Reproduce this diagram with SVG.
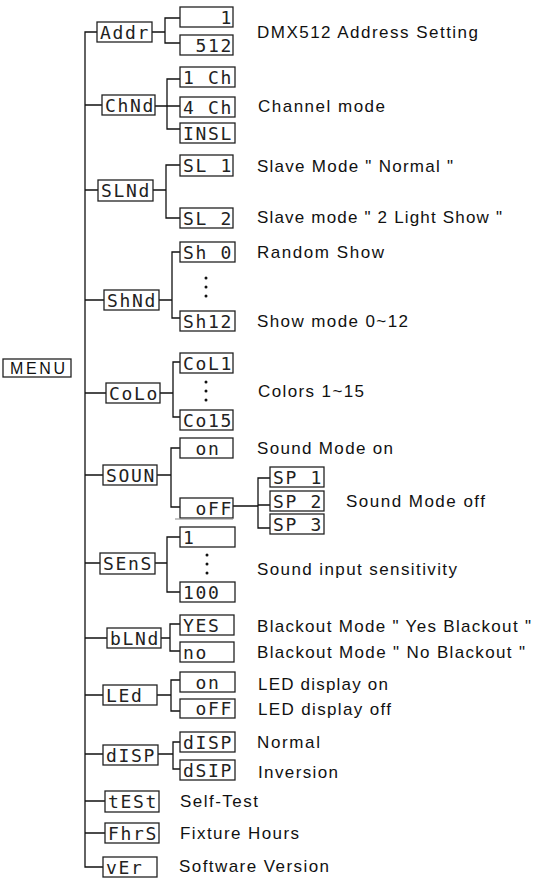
<svg xmlns="http://www.w3.org/2000/svg" width="537" height="884" viewBox="0 0 537 884">
<style>
.box{fill:#fff;stroke:#222;stroke-width:1.3}
.seg{font-family:"DejaVu Sans Mono",monospace;font-size:18px;fill:#222}
.lbl{font-family:"Liberation Sans",Arial,sans-serif;font-size:17px;fill:#111}
.menu{font-family:"Liberation Sans",Arial,sans-serif;font-size:16px;fill:#111}
.con{fill:none;stroke:#111;stroke-width:1.3}
.dot{fill:#111}
</style>
<rect width="537" height="884" fill="#fff"/>
<g id="connectors" class="con">
<path d="M97,32 H85 V867 H103"/>
<path d="M85,105 H102 M85,190 H98 M85,300 H104 M85,393 H106 M85,475 H103 M85,563 H100 M85,638 H107 M85,695 H103 M85,754 H103 M85,801 H105 M85,833 H105"/>
<path d="M152,32 H165 M180,18 H165 V43 H180"/>
<path d="M155,106 H180 M180,79 H167 V129 H180"/>
<path d="M153,190 H166 M180,165 H166 V218 H180"/>
<path d="M159,300 H172 M180,252 H172 V318 H180"/>
<path d="M160,393 H173 M180,362 H173 V417 H180"/>
<path d="M157,475 H171 M180,448 H171 V507 H180"/>
<path d="M233,506 H258 M270,478 H258 V528 H270 M258,505 H270"/>
<path d="M155,563 H167 M180,537 H167 V592 H180"/>
<path d="M161,638 H170 M180,624 H170 V651 H180"/>
<path d="M157,695 H171 M180,680 H171 V711 H180"/>
<path d="M158,754 H173 M180,742 H173 V769 H180"/>
</g>
<g id="menu"><rect class="box" x="3" y="359" width="68" height="18"/><text class="menu" x="10" y="374" textLength="55" lengthAdjust="spacing">MENU</text></g>

<g id="addr"><rect class="box" x="97" y="22" width="55" height="20"/><text class="seg" x="100 112.5 125 137.5" y="38.5">Addr</text></g>
<g id="addr-1"><rect class="box" x="180" y="7" width="53" height="20"/><text class="seg" x="220.5" y="23.5">1</text></g>
<g id="addr-512"><rect class="box" x="180" y="35" width="53" height="20"/><text class="seg" x="195.5 208 220.5" y="51.5">512</text></g>
<text class="lbl" x="257" y="38" textLength="221" lengthAdjust="spacing">DMX512 Address Setting</text>

<g id="chnd"><rect class="box" x="102" y="95" width="53" height="20"/><text class="seg" x="105 117.5 130 142.5" y="111.5">ChNd</text></g>
<g id="ch-1"><rect class="box" x="180" y="67" width="55" height="20"/><text class="seg" x="183 208 220.5" y="83.5">1Ch</text></g>
<g id="ch-4"><rect class="box" x="180" y="97" width="55" height="20"/><text class="seg" x="183 208 220.5" y="113.5">4Ch</text></g>
<g id="ch-insl"><rect class="box" x="180" y="123" width="55" height="20"/><text class="seg" x="183 195.5 208 220.5" y="139.5">INSL</text></g>
<text class="lbl" x="258" y="112" textLength="127" lengthAdjust="spacing">Channel mode</text>

<g id="slnd"><rect class="box" x="98" y="180" width="55" height="21"/><text class="seg" x="101 113.5 126 138.5" y="196.5">SLNd</text></g>
<g id="sl-1"><rect class="box" x="180" y="155" width="53" height="21"/><text class="seg" x="183 195.5 220.5" y="171.5">SL1</text></g>
<g id="sl-2"><rect class="box" x="180" y="208" width="53" height="20"/><text class="seg" x="183 195.5 220.5" y="224.5">SL2</text></g>
<text class="lbl" x="257" y="172" textLength="196" lengthAdjust="spacing">Slave Mode " Normal "</text>
<text class="lbl" x="257" y="223" textLength="245" lengthAdjust="spacing">Slave mode " 2 Light Show "</text>

<g id="shnd"><rect class="box" x="104" y="290" width="55" height="20"/><text class="seg" x="107 119.5 132 144.5" y="306.5">ShNd</text></g>
<g id="sh-0"><rect class="box" x="180" y="242" width="55" height="20"/><text class="seg" x="183 195.5 220.5" y="258.5">Sh0</text></g>
<g id="sh-12"><rect class="box" x="180" y="311" width="55" height="20"/><text class="seg" x="183 195.5 208 220.5" y="327.5">Sh12</text></g>
<circle class="dot" cx="206" cy="278" r="1.5"/><circle class="dot" cx="206" cy="287" r="1.5"/><circle class="dot" cx="206" cy="296" r="1.5"/>
<text class="lbl" x="257" y="258" textLength="127" lengthAdjust="spacing">Random Show</text>
<text class="lbl" x="257" y="327" textLength="151" lengthAdjust="spacing">Show mode 0~12</text>

<g id="colo"><rect class="box" x="106" y="383" width="54" height="20"/><text class="seg" x="109 121.5 134 146.5" y="399.5">CoLo</text></g>
<g id="col-1"><rect class="box" x="180" y="353" width="53" height="20"/><text class="seg" x="183 195.5 208 220.5" y="369.5">CoL1</text></g>
<g id="col-15"><rect class="box" x="180" y="410" width="53" height="20"/><text class="seg" x="183 195.5 208 220.5" y="426.5">Co15</text></g>
<circle class="dot" cx="206" cy="382" r="1.5"/><circle class="dot" cx="206" cy="391" r="1.5"/><circle class="dot" cx="206" cy="400" r="1.5"/>
<text class="lbl" x="258" y="397" textLength="106" lengthAdjust="spacing">Colors 1~15</text>

<g id="soun"><rect class="box" x="103" y="465" width="54" height="20"/><text class="seg" x="106 118.5 131 143.5" y="481.5">SOUN</text></g>
<g id="soun-on"><rect class="box" x="180" y="438" width="53" height="20"/><text class="seg" x="195.5 208" y="454.5">on</text></g>
<g id="soun-off"><rect class="box" x="180" y="498" width="53" height="20"/><path d="M175,519 H233" stroke="#888" stroke-width="1"/><text class="seg" x="195.5 208 220.5" y="514.5">oFF</text></g>
<g id="sp-1"><rect class="box" x="270" y="467" width="54" height="20"/><text class="seg" x="273 285.5 310.5" y="483.5">SP1</text></g>
<g id="sp-2"><rect class="box" x="270" y="491" width="54" height="20"/><text class="seg" x="273 285.5 310.5" y="507.5">SP2</text></g>
<g id="sp-3"><rect class="box" x="270" y="514" width="54" height="20"/><text class="seg" x="273 285.5 310.5" y="530.5">SP3</text></g>
<text class="lbl" x="257" y="454" textLength="136" lengthAdjust="spacing">Sound Mode on</text>
<text class="lbl" x="346" y="507" textLength="139" lengthAdjust="spacing">Sound Mode off</text>

<g id="sens"><rect class="box" x="100" y="553" width="55" height="21"/><text class="seg" x="103 115.5 128 140.5" y="569.5">SEnS</text></g>
<g id="sens-1"><rect class="box" x="180" y="527" width="55" height="20"/><text class="seg" x="183" y="543.5">1</text></g>
<g id="sens-100"><rect class="box" x="180" y="582" width="55" height="20"/><text class="seg" x="183 195.5 208" y="598.5">100</text></g>
<circle class="dot" cx="207" cy="555" r="1.5"/><circle class="dot" cx="207" cy="564" r="1.5"/><circle class="dot" cx="207" cy="573" r="1.5"/>
<text class="lbl" x="257" y="575" textLength="200" lengthAdjust="spacing">Sound input sensitivity</text>

<g id="blnd"><rect class="box" x="107" y="628" width="54" height="20"/><text class="seg" x="110 122.5 135 147.5" y="644.5">bLNd</text></g>
<g id="bl-yes"><rect class="box" x="180" y="615" width="54" height="20"/><text class="seg" x="183 195.5 208" y="631.5">YES</text></g>
<g id="bl-no"><rect class="box" x="180" y="642" width="54" height="20"/><text class="seg" x="183 195.5" y="658.5">no</text></g>
<text class="lbl" x="257" y="632" textLength="274" lengthAdjust="spacing">Blackout Mode " Yes Blackout "</text>
<text class="lbl" x="257" y="658" textLength="268" lengthAdjust="spacing">Blackout Mode " No Blackout "</text>

<g id="led"><rect class="box" x="103" y="685" width="54" height="20"/><text class="seg" x="106 118.5 131" y="701.5">LEd</text></g>
<g id="led-on"><rect class="box" x="180" y="672" width="55" height="20"/><text class="seg" x="195.5 208" y="688.5">on</text></g>
<g id="led-off"><rect class="box" x="180" y="699" width="55" height="19"/><text class="seg" x="195.5 208 220.5" y="715">oFF</text></g>
<text class="lbl" x="258" y="690" textLength="130" lengthAdjust="spacing">LED display on</text>
<text class="lbl" x="258" y="715" textLength="133" lengthAdjust="spacing">LED display off</text>

<g id="disp"><rect class="box" x="103" y="745" width="55" height="20"/><text class="seg" x="106 118.5 131 143.5" y="761.5">dISP</text></g>
<g id="disp-n"><rect class="box" x="180" y="732" width="55" height="20"/><text class="seg" x="183 195.5 208 220.5" y="748.5">dISP</text></g>
<g id="disp-i"><rect class="box" x="180" y="760" width="55" height="20"/><text class="seg" x="183 195.5 208 220.5" y="776.5">dSIP</text></g>
<text class="lbl" x="257" y="748" textLength="63" lengthAdjust="spacing">Normal</text>
<text class="lbl" x="258" y="778" textLength="80" lengthAdjust="spacing">Inversion</text>

<g id="test"><rect class="box" x="105" y="791" width="54" height="21"/><text class="seg" x="108 120.5 133 145.5" y="807.5">tESt</text></g>
<text class="lbl" x="180" y="807" textLength="78" lengthAdjust="spacing">Self-Test</text>
<g id="fhrs"><rect class="box" x="105" y="823" width="54" height="20"/><text class="seg" x="108 120.5 133 145.5" y="839.5">FhrS</text></g>
<text class="lbl" x="180" y="839" textLength="119" lengthAdjust="spacing">Fixture Hours</text>
<g id="ver"><rect class="box" x="103" y="857" width="54" height="20"/><text class="seg" x="106 118.5 131" y="873.5">vEr</text></g>
<text class="lbl" x="179" y="872" textLength="150" lengthAdjust="spacing">Software Version</text>
</svg>
